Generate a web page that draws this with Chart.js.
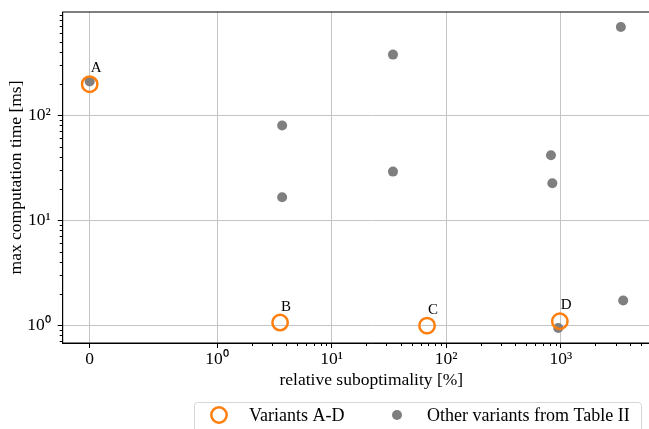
<!DOCTYPE html>
<html>
<head>
<meta charset="utf-8">
<script src="https://cdn.jsdelivr.net/npm/chart.js@4.4.1/dist/chart.umd.min.js"></script>
<style>
  html, body { margin: 0; padding: 0; overflow: hidden; background: #fff; }
  #wrap { width: 680px; height: 440px; }
</style>
</head>
<body>
<div id="wrap"><canvas id="myChart"></canvas></div>
<script>
// Variants A-D (orange rings)
var variantNames = ["A", "B", "C", "D"];
var variantX = [0, 3.55, 68, 980];
var variantY = [197, 1.06, 0.99, 1.09];

// Other variants from Table II (grey dots)
var otherX = [0, 3.7, 3.7, 34.3, 34.3, 820, 843, 949, 3340, 3500];
var otherY = [209, 79.6, 16.5, 377, 29.0, 41.5, 22.5, 0.94, 691, 1.72];

var xTicks = [0, 1, 10, 100, 1000];
var xTickLabels = ["0", "10⁰", "10¹", "10²", "10³"];
var yTicks = [1, 10, 100];
var yTickLabels = ["10⁰", "10¹", "10²"];

var xMin = -0.212, xMax = 10960;
var yMin = 0.677, yMax = 959;

// symlog like matplotlib (linthresh 1, linscale 1)
var LINTHRESH = 1;
var LINSCALE = 1 / (1 - 1 / 10);
function symlog(v) {
  var a = Math.abs(v);
  if (a <= LINTHRESH) return v * LINSCALE;
  return Math.sign(v) * LINTHRESH * (LINSCALE + Math.log10(a / LINTHRESH));
}
function symlogInv(t) {
  var a = Math.abs(t);
  if (a <= LINTHRESH * LINSCALE) return t / LINSCALE;
  return Math.sign(t) * LINTHRESH * Math.pow(10, a / LINTHRESH - LINSCALE);
}

class SymlogScale extends Chart.Scale {
  determineDataLimits() {
    this.min = this.options.min;
    this.max = this.options.max;
  }
  buildTicks() {
    return xTicks.map(function (v) { return { value: v }; });
  }
  configure() {
    super.configure();
    this._tMin = symlog(this.min);
    this._tRange = symlog(this.max) - this._tMin;
  }
  getLabelForValue(v) { return String(v); }
  getPixelForTick(i) { return this.getPixelForValue(this.ticks[i].value); }
  getPixelForValue(v) {
    return this.getPixelForDecimal((symlog(v) - this._tMin) / this._tRange);
  }
  getValueForPixel(p) {
    return symlogInv(this._tMin + this.getDecimalForPixel(p) * this._tRange);
  }
}
SymlogScale.id = "symlog";
SymlogScale.defaults = {};
Chart.register(SymlogScale);

function minorTicks(lo, hi) {
  var out = [];
  for (var d = lo; d <= hi; d++) {
    for (var m = 2; m <= 9; m++) out.push(m * Math.pow(10, d));
  }
  return out;
}

var extras = {
  id: "extras",
  afterDatasetsDraw: function (chart) {
    var ctx = chart.ctx, a = chart.chartArea;
    var xs = chart.scales.x, ys = chart.scales.y;
    ctx.save();
    // annotation letters
    ctx.fillStyle = "#000";
    ctx.font = "15px 'Liberation Serif', serif";
    ctx.textAlign = "left";
    ctx.textBaseline = "alphabetic";
    for (var i = 0; i < variantNames.length; i++) {
      ctx.fillText(variantNames[i],
        xs.getPixelForValue(variantX[i]) + 1,
        ys.getPixelForValue(variantY[i]) - 12);
    }
    // spines
    ctx.strokeStyle = "#000";
    ctx.lineWidth = 1;
    ctx.strokeRect(a.left, a.top, a.right - a.left, a.bottom - a.top);
    // minor ticks
    ctx.beginPath();
    minorTicks(0, 3).forEach(function (v) {
      if (v > xMax) return;
      var px = Math.round(xs.getPixelForValue(v)) + 0.5;
      ctx.moveTo(px, a.bottom);
      ctx.lineTo(px, a.bottom + 3);
    });
    minorTicks(-1, 2).forEach(function (v) {
      if (v < yMin || v > yMax) return;
      var py = Math.round(ys.getPixelForValue(v)) + 0.5;
      ctx.moveTo(a.left - 3, py);
      ctx.lineTo(a.left, py);
    });
    ctx.stroke();
    ctx.restore();
  },
  afterDraw: function (chart) {
    var ctx = chart.ctx;
    var ds = chart.data.datasets;
    ctx.save();
    // legend box
    var bx = 194.5, by = 402.5, bw = 447, bh = 30, r = 3;
    ctx.beginPath();
    ctx.moveTo(bx + r, by);
    ctx.arcTo(bx + bw, by, bx + bw, by + bh, r);
    ctx.arcTo(bx + bw, by + bh, bx, by + bh, r);
    ctx.arcTo(bx, by + bh, bx, by, r);
    ctx.arcTo(bx, by, bx + bw, by, r);
    ctx.closePath();
    ctx.fillStyle = "rgba(255,255,255,0.8)";
    ctx.fill();
    ctx.strokeStyle = "#d6d6d6";
    ctx.lineWidth = 1;
    ctx.stroke();

    var cy = 415;
    var entries = [
      { mx: 219, tx: 249 },
      { mx: 397, tx: 427 }
    ];
    ctx.font = "18px 'Liberation Serif', serif";
    ctx.textBaseline = "middle";
    ctx.textAlign = "left";
    entries.forEach(function (e, i) {
      var d = ds[i];
      ctx.beginPath();
      ctx.arc(e.mx, cy, d.pointRadius, 0, Math.PI * 2);
      if (d.borderWidth > 0 && d.backgroundColor === "rgba(0,0,0,0)") {
        ctx.strokeStyle = d.borderColor;
        ctx.lineWidth = d.borderWidth;
        ctx.stroke();
      } else {
        ctx.fillStyle = d.backgroundColor;
        ctx.fill();
      }
      ctx.fillStyle = "#000";
      ctx.fillText(d.label, e.tx, cy + 1);
    });
    ctx.restore();
  }
};

Chart.defaults.font.family = "'Liberation Serif', serif";
Chart.defaults.font.size = 17.5;
Chart.defaults.color = "#000";

var variantPts = variantX.map(function (x, i) { return { x: x, y: variantY[i] }; });
var otherPts = otherX.map(function (x, i) { return { x: x, y: otherY[i] }; });

var ctx = document.getElementById("myChart").getContext("2d");
var myChart = new Chart(ctx, {
  type: "scatter",
  data: {
    datasets: [
      {
        label: "Variants A-D",
        data: variantPts,
        pointRadius: 7.7,
        borderWidth: 2.5,
        borderColor: "#ff7f0e",
        backgroundColor: "rgba(0,0,0,0)"
      },
      {
        label: "Other variants from Table II",
        data: otherPts,
        pointRadius: 5,
        borderWidth: 0,
        borderColor: "#7f7f7f",
        backgroundColor: "#7f7f7f"
      }
    ]
  },
  options: {
    responsive: true,
    maintainAspectRatio: false,
    animation: false,
    layout: { autoPadding: false, padding: { top: 12, bottom: 47, left: 0, right: 0 } },
    plugins: {
      legend: { display: false },
      tooltip: { enabled: false }
    },
    scales: {
      x: {
        type: "symlog",
        position: "bottom",
        min: xMin,
        max: xMax,
        afterFit: function (axis) {
          axis.height = 50;
          axis.paddingLeft = 0;
          axis.paddingRight = 0;
        },
        grid: { color: "#c4c4c4", lineWidth: 1, tickColor: "#000", tickLength: 5, tickWidth: 1 },
        border: { color: "#000", width: 1 },
        ticks: {
          padding: 1,
          maxRotation: 0,
          callback: function (v) { return xTickLabels[xTicks.indexOf(v)]; }
        },
        title: { display: true, text: "relative suboptimality [%]", padding: { top: 0, bottom: 2 } }
      },
      y: {
        type: "logarithmic",
        position: "left",
        min: yMin,
        max: yMax,
        bounds: "data",
        afterBuildTicks: function (axis) {
          axis.ticks = yTicks.map(function (v) { return { value: v }; });
        },
        afterFit: function (axis) {
          axis.width = 62.7;
          axis.paddingTop = 0;
          axis.paddingBottom = 0;
        },
        grid: { color: "#c4c4c4", lineWidth: 1, tickColor: "#000", tickLength: 5, tickWidth: 1 },
        border: { color: "#000", width: 1 },
        ticks: {
          padding: 7,
          callback: function (v) { return yTickLabels[yTicks.indexOf(v)]; }
        },
        title: { display: true, text: "max computation time [ms]", padding: { top: 6, bottom: 0 } }
      }
    }
  },
  plugins: [extras]
});
</script>
</body>
</html>
